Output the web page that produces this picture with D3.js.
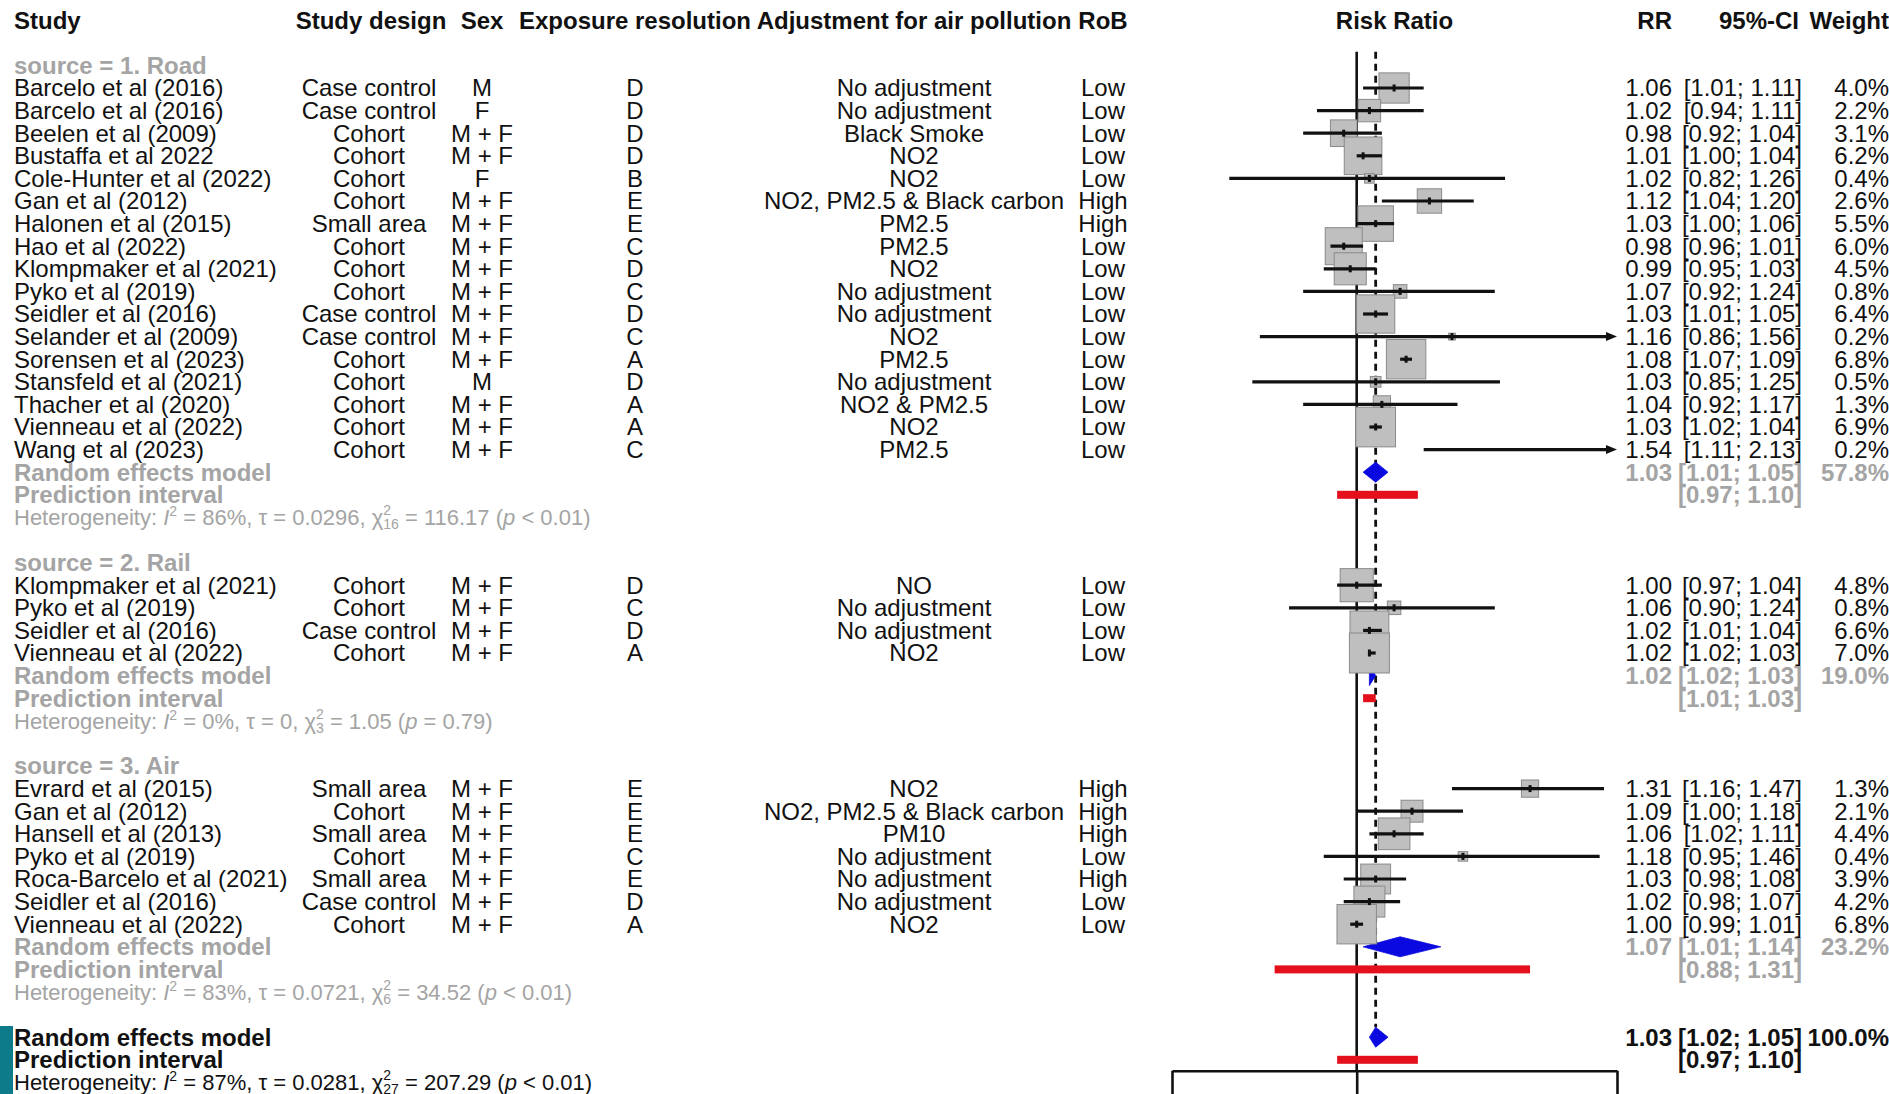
<!DOCTYPE html>
<html>
<head>
<meta charset="utf-8">
<script src="https://cdnjs.cloudflare.com/ajax/libs/d3/7.8.5/d3.min.js"></script>
<style>
  html, body { margin: 0; padding: 0; background: #ffffff; }
  svg { display: block; font-family: "Liberation Sans", Arial, Helvetica, sans-serif; }
</style>
</head>
<body>
<svg id="chart" width="1889" height="1094"></svg>
<script>
// ---------------- Study-level data (display order) ----------------
const groupLabels = ["source = 1. Road", "source = 2. Rail", "source = 3. Air"];

const studyGroup = [
  0,0,0,0,0,0,0,0,0,0,0,0,0,0,0,0,0,
  1,1,1,1,
  2,2,2,2,2,2,2
];
const studyNames = [
  "Barcelo et al (2016)", "Barcelo et al (2016)", "Beelen et al (2009)", "Bustaffa et al 2022",
  "Cole-Hunter et al (2022)", "Gan et al (2012)", "Halonen et al (2015)", "Hao et al (2022)",
  "Klompmaker et al (2021)", "Pyko et al (2019)", "Seidler et al (2016)", "Selander et al (2009)",
  "Sorensen et al (2023)", "Stansfeld et al (2021)", "Thacher et al (2020)", "Vienneau et al (2022)",
  "Wang et al (2023)",
  "Klompmaker et al (2021)", "Pyko et al (2019)", "Seidler et al (2016)", "Vienneau et al (2022)",
  "Evrard et al (2015)", "Gan et al (2012)", "Hansell et al (2013)", "Pyko et al (2019)",
  "Roca-Barcelo et al (2021)", "Seidler et al (2016)", "Vienneau et al (2022)"
];
const studyDesign = [
  "Case control", "Case control", "Cohort", "Cohort", "Cohort", "Cohort", "Small area", "Cohort",
  "Cohort", "Cohort", "Case control", "Case control", "Cohort", "Cohort", "Cohort", "Cohort", "Cohort",
  "Cohort", "Cohort", "Case control", "Cohort",
  "Small area", "Cohort", "Small area", "Cohort", "Small area", "Case control", "Cohort"
];
const studySex = [
  "M", "F", "M + F", "M + F", "F", "M + F", "M + F", "M + F", "M + F", "M + F", "M + F", "M + F",
  "M + F", "M", "M + F", "M + F", "M + F",
  "M + F", "M + F", "M + F", "M + F",
  "M + F", "M + F", "M + F", "M + F", "M + F", "M + F", "M + F"
];
const exposureRes = [
  "D", "D", "D", "D", "B", "E", "E", "C", "D", "C", "D", "C", "A", "D", "A", "A", "C",
  "D", "C", "D", "A",
  "E", "E", "E", "C", "E", "D", "A"
];
const airAdjust = [
  "No adjustment", "No adjustment", "Black Smoke", "NO2", "NO2", "NO2, PM2.5 & Black carbon",
  "PM2.5", "PM2.5", "NO2", "No adjustment", "No adjustment", "NO2", "PM2.5", "No adjustment",
  "NO2 & PM2.5", "NO2", "PM2.5",
  "NO", "No adjustment", "No adjustment", "NO2",
  "NO2", "NO2, PM2.5 & Black carbon", "PM10", "No adjustment", "No adjustment", "No adjustment", "NO2"
];
const riskOfBias = [
  "Low", "Low", "Low", "Low", "Low", "High", "High", "Low", "Low", "Low", "Low", "Low", "Low",
  "Low", "Low", "Low", "Low",
  "Low", "Low", "Low", "Low",
  "High", "High", "High", "Low", "High", "Low", "Low"
];
const rr = [
  1.06, 1.02, 0.98, 1.01, 1.02, 1.12, 1.03, 0.98, 0.99, 1.07, 1.03, 1.16, 1.08, 1.03, 1.04, 1.03, 1.54,
  1.00, 1.06, 1.02, 1.02,
  1.31, 1.09, 1.06, 1.18, 1.03, 1.02, 1.00
];
const ciLow = [
  1.01, 0.94, 0.92, 1.00, 0.82, 1.04, 1.00, 0.96, 0.95, 0.92, 1.01, 0.86, 1.07, 0.85, 0.92, 1.02, 1.11,
  0.97, 0.90, 1.01, 1.02,
  1.16, 1.00, 1.02, 0.95, 0.98, 0.98, 0.99
];
const ciHigh = [
  1.11, 1.11, 1.04, 1.04, 1.26, 1.20, 1.06, 1.01, 1.03, 1.24, 1.05, 1.56, 1.09, 1.25, 1.17, 1.04, 2.13,
  1.04, 1.24, 1.04, 1.03,
  1.47, 1.18, 1.11, 1.46, 1.08, 1.07, 1.01
];
const weights = [
  4.0, 2.2, 3.1, 6.2, 0.4, 2.6, 5.5, 6.0, 4.5, 0.8, 6.4, 0.2, 6.8, 0.5, 1.3, 6.9, 0.2,
  4.8, 0.8, 6.6, 7.0,
  1.3, 2.1, 4.4, 0.4, 3.9, 4.2, 6.8
];

// ---------------- Pooled estimates per subgroup ----------------
const subRR     = [1.03, 1.02, 1.07];
const subLow    = [1.01, 1.02, 1.01];
const subHigh   = [1.05, 1.03, 1.14];
const subWeight = [57.8, 19.0, 23.2];
const subPiLow  = [0.97, 1.01, 0.88];
const subPiHigh = [1.10, 1.03, 1.31];
const subI2     = ["86%", "0%", "83%"];
const subTau    = ["0.0296", "0", "0.0721"];
const subDf     = ["16", "3", "6"];
const subQ      = ["116.17", "1.05", "34.52"];
const subP      = ["< 0.01", "= 0.79", "< 0.01"];

// ---------------- Overall pooled estimate ----------------
const overallRR = 1.03, overallLow = 1.02, overallHigh = 1.05, overallWeight = 100.0;
const overallPiLow = 0.97, overallPiHigh = 1.10;
const overallHet = { i2: "87%", tau: "0.0281", df: "27", q: "207.29", p: "< 0.01" };

const axisTicks = [0.75, 1, 1.5];
const columnHeaders = ["Study", "Study design", "Sex", "Exposure resolution",
                       "Adjustment for air pollution", "RoB", "Risk Ratio", "RR", "95%-CI", "Weight"];

// ---------------- Layout ----------------
const svg = d3.select("#chart");
const FS = 24;
const HET_FS = 22;
const INK = "#111111";
const GREY = "#a4a4a4";
const BOX_FILL = "#bfbfbf";
const BOX_STROKE = "#8a8a8a";
const DIAMOND = "#0a0ae0";
const PRED = "#e4101c";

const y = d3.scaleLinear().domain([0, 1]).range([88, 110.6]);   // row index -> pixel centre
const x = d3.scaleLog().domain([0.75, 1.5]).range([1172, 1617]);
const boxSide = d3.scaleSqrt().domain([0, d3.max(weights)]).range([0, 40]);

const col = {
  study: 14, design: 369, sex: 482, expo: 635, adjust: 914, rob: 1103,
  plot: (x.range()[0] + x.range()[1]) / 2, rr: 1672, ci: 1802, weight: 1889
};

const f2 = d3.format(".2f");
const f1 = d3.format(".1f");
const ciText = (lo, hi) => "[" + f2(lo) + "; " + f2(hi) + "]";

// Build the row map
const studyRow = [];
const groupRows = [];
let r = -1;
groupLabels.forEach((g, gi) => {
  const label = r++;
  const members = d3.range(studyNames.length).filter(i => studyGroup[i] === gi);
  members.forEach(i => { studyRow[i] = r++; });
  groupRows.push({ label, re: r, pi: r + 1, het: r + 2 });
  r += 4;
});
const overallRows = { re: r, pi: r + 1, het: r + 2 };
const axisY = y(overallRows.pi) + 11;

function txt(parent, xPos, row, s, opt = {}) {
  return parent.append("text")
    .attr("x", xPos)
    .attr("y", y(row))
    .attr("dy", "0.35em")
    .attr("text-anchor", opt.anchor || "start")
    .attr("font-weight", opt.bold ? "bold" : "normal")
    .attr("fill", opt.color || INK)
    .style("font-size", (opt.size || FS) + "px")
    .text(s);
}

function hetText(parent, row, h, color) {
  const t = parent.append("text")
    .attr("x", col.study).attr("y", y(row)).attr("dy", "0.35em")
    .attr("fill", color).style("font-size", HET_FS + "px");
  t.append("tspan").text("Heterogeneity: ");
  t.append("tspan").attr("font-style", "italic").text("I");
  t.append("tspan").attr("dy", -9).style("font-size", "14px").text("2");
  t.append("tspan").attr("dy", 9).text(" = " + h.i2 + ", \u03C4 = " + h.tau + ", \u03C7");
  t.append("tspan").attr("dy", -10).style("font-size", "14px").text("2");
  t.append("tspan").attr("dx", -7.8).attr("dy", 14).style("font-size", "14px").text(h.df);
  t.append("tspan").attr("dy", -4).text(" = " + h.q + " (");
  t.append("tspan").attr("font-style", "italic").text("p");
  t.append("tspan").text(" " + h.p + ")");
}

// ---------------- Header ----------------
const header = svg.append("g");
const headerPos = [
  [col.study, "start"], [col.design + 2, "middle"], [col.sex, "middle"], [col.expo, "middle"],
  [col.adjust, "middle"], [col.rob, "middle"], [col.plot, "middle"], [col.rr, "end"],
  [col.ci - 3, "end"], [1889, "end"]
];
columnHeaders.forEach((h, i) => txt(header, headerPos[i][0], -3, h, { bold: true, anchor: headerPos[i][1] }));

// ---------------- Reference lines ----------------
const lines = svg.append("g");
const topY = y(-1.6);
lines.append("line")
  .attr("x1", x(1)).attr("x2", x(1)).attr("y1", topY).attr("y2", axisY)
  .attr("stroke", INK).attr("stroke-width", 2.6);
lines.append("line")
  .attr("x1", x(overallRR)).attr("x2", x(overallRR))
  .attr("y1", topY).attr("y2", y(overallRows.re) - 10)
  .attr("stroke", INK).attr("stroke-width", 2.8).attr("stroke-dasharray", "7,5");

// ---------------- Axis ----------------
const axis = svg.append("g")
  .attr("transform", `translate(0,${axisY})`)
  .call(d3.axisBottom(x).tickValues(axisTicks).tickFormat("").tickSize(30).tickSizeOuter(0));
axis.select(".domain").attr("stroke", INK).attr("stroke-width", 2.6);
axis.selectAll(".tick line").attr("stroke", INK).attr("stroke-width", 2.6);

// ---------------- Pooled diamonds and prediction bars ----------------
const pooled = svg.append("g");
function diamond(est, lo, hi, row) {
  const cy = y(row), h = 10;
  pooled.append("path")
    .attr("d", `M${x(lo)},${cy} L${x(est)},${cy - h} L${x(hi)},${cy} L${x(est)},${cy + h} Z`)
    .attr("fill", DIAMOND).attr("stroke", DIAMOND).attr("stroke-width", 0.8);
}
function predBar(lo, hi, row) {
  pooled.append("rect")
    .attr("x", x(lo)).attr("width", x(hi) - x(lo))
    .attr("y", y(row) - 4).attr("height", 8)
    .attr("fill", PRED);
}
groupRows.forEach((g, gi) => {
  diamond(subRR[gi], subLow[gi], subHigh[gi], g.re);
  predBar(subPiLow[gi], subPiHigh[gi], g.pi);
});
diamond(overallRR, overallLow, overallHigh, overallRows.re);
predBar(overallPiLow, overallPiHigh, overallRows.pi);

// ---------------- Study boxes and confidence intervals ----------------
const marks = svg.append("g");
const [xMin, xMax] = x.domain();
const inRange = v => v >= xMin && v <= xMax;
studyNames.forEach((_, i) => {
  if (!inRange(rr[i])) return;
  const cy = y(studyRow[i]);
  const s = boxSide(weights[i]);
  marks.append("rect")
    .attr("x", x(rr[i]) - s / 2).attr("y", cy - s / 2)
    .attr("width", s).attr("height", s)
    .attr("fill", BOX_FILL).attr("stroke", BOX_STROKE).attr("stroke-width", 1);
});
studyNames.forEach((_, i) => {
  const cy = y(studyRow[i]);
  const lo = Math.max(ciLow[i], xMin), hi = Math.min(ciHigh[i], xMax);
  const clipped = ciHigh[i] > xMax;
  marks.append("line")
    .attr("x1", x(lo)).attr("x2", clipped ? x(hi) - 8 : x(hi))
    .attr("y1", cy).attr("y2", cy)
    .attr("stroke", INK).attr("stroke-width", 3.2);
  if (clipped) {
    const tip = x(hi);
    marks.append("path")
      .attr("d", `M${tip},${cy} L${tip - 11},${cy - 4.5} L${tip - 11},${cy + 4.5} Z`)
      .attr("fill", INK);
  }
  if (inRange(rr[i])) {
    marks.append("rect")
      .attr("x", x(rr[i]) - 1.5).attr("y", cy - 3.5)
      .attr("width", 3).attr("height", 7)
      .attr("fill", INK);
  }
});

// ---------------- Table text ----------------
const table = svg.append("g");
groupLabels.forEach((g, gi) => {
  const rows = groupRows[gi];
  txt(table, col.study, rows.label, g, { bold: true, color: GREY });
  txt(table, col.study, rows.re, "Random effects model", { bold: true, color: GREY });
  txt(table, col.study, rows.pi, "Prediction interval", { bold: true, color: GREY });
  txt(table, col.rr, rows.re, f2(subRR[gi]), { bold: true, color: GREY, anchor: "end" });
  txt(table, col.ci, rows.re, ciText(subLow[gi], subHigh[gi]), { bold: true, color: GREY, anchor: "end" });
  txt(table, col.weight, rows.re, f1(subWeight[gi]) + "%", { bold: true, color: GREY, anchor: "end" });
  txt(table, col.ci, rows.pi, ciText(subPiLow[gi], subPiHigh[gi]), { bold: true, color: GREY, anchor: "end" });
  hetText(table, rows.het, { i2: subI2[gi], tau: subTau[gi], df: subDf[gi], q: subQ[gi], p: subP[gi] }, GREY);
});

studyNames.forEach((name, i) => {
  const row = studyRow[i];
  txt(table, col.study, row, name);
  txt(table, col.design, row, studyDesign[i], { anchor: "middle" });
  txt(table, col.sex, row, studySex[i], { anchor: "middle" });
  txt(table, col.expo, row, exposureRes[i], { anchor: "middle" });
  txt(table, col.adjust, row, airAdjust[i], { anchor: "middle" });
  txt(table, col.rob, row, riskOfBias[i], { anchor: "middle" });
  txt(table, col.rr, row, f2(rr[i]), { anchor: "end" });
  txt(table, col.ci, row, ciText(ciLow[i], ciHigh[i]), { anchor: "end" });
  txt(table, col.weight, row, f1(weights[i]) + "%", { anchor: "end" });
});

txt(table, col.study, overallRows.re, "Random effects model", { bold: true });
txt(table, col.study, overallRows.pi, "Prediction interval", { bold: true });
txt(table, col.rr, overallRows.re, f2(overallRR), { bold: true, anchor: "end" });
txt(table, col.ci, overallRows.re, ciText(overallLow, overallHigh), { bold: true, anchor: "end" });
txt(table, col.weight, overallRows.re, f1(overallWeight) + "%", { bold: true, anchor: "end" });
txt(table, col.ci, overallRows.pi, ciText(overallPiLow, overallPiHigh), { bold: true, anchor: "end" });
hetText(table, overallRows.het, overallHet, INK);

// Side marker at the lower-left edge
svg.append("rect").attr("x", 0).attr("y", 1026).attr("width", 13).attr("height", 68).attr("fill", "#0d7b8a");
</script>
</body>
</html>
